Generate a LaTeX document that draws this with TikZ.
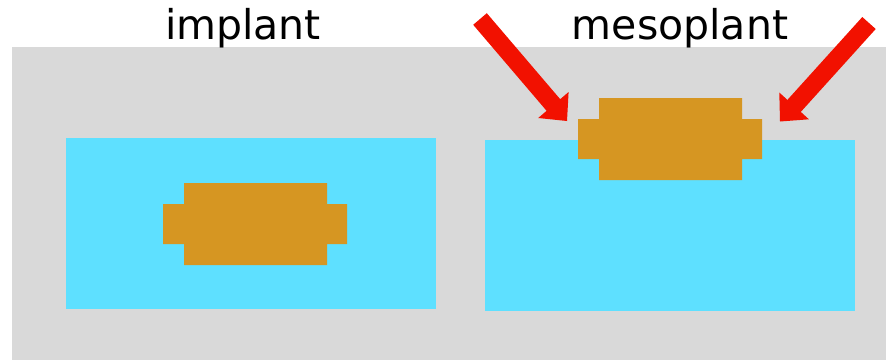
\documentclass[tikz,border=0pt]{standalone}
\usepackage{fontspec}
\setmainfont{DejaVu Sans}
\definecolor{tissue}{HTML}{D9D9D9}
\definecolor{medium}{HTML}{5EE0FF}
\definecolor{body}{HTML}{D69622}
\definecolor{pointer}{HTML}{F21100}
\tikzset{
  label text/.style={inner sep=0pt, anchor=base, font=\fontsize{41}{48}\selectfont},
  capsule/.pic={
    \fill[body] (184,183) -- (327,183) -- (327,204) -- (347,204) -- (347,244)
      -- (327,244) -- (327,265) -- (184,265) -- (184,244) -- (163,244)
      -- (163,204) -- (184,204) -- cycle;
  }
}
\begin{document}
\begin{tikzpicture}[x=1pt, y=-1pt]
  \useasboundingbox (0,0) rectangle (886,360);
  % background tissue block
  \fill[tissue] (12,47) rectangle (886,360);
  % the two wells
  \fill[medium] (66,138) rectangle (436,309);
  \fill[medium] (485,140) rectangle (855,311);
  % embedded and surface-placed capsules
  \pic at (0,0) {capsule};
  \pic at (415,-85) {capsule};
  % red pointers toward the raised capsule
  \fill[pointer] (486.8,13.2) -- (560.2,99.2) -- (568.6,92.0) -- (567,121)
    -- (538.2,118.0) -- (546.6,110.8) -- (473.2,24.8) -- cycle;
  \fill[pointer] (875.7,29.0) -- (800.8,111.9) -- (808.9,119.3) -- (780,121.5)
    -- (779.3,92.5) -- (787.4,99.9) -- (862.3,17.0) -- cycle;
  % titles
  \node[label text] (implant) at (243,39) {implant};
  \node[label text] (mesoplant) at (680,39) {mesoplant};
\end{tikzpicture}
\end{document}
